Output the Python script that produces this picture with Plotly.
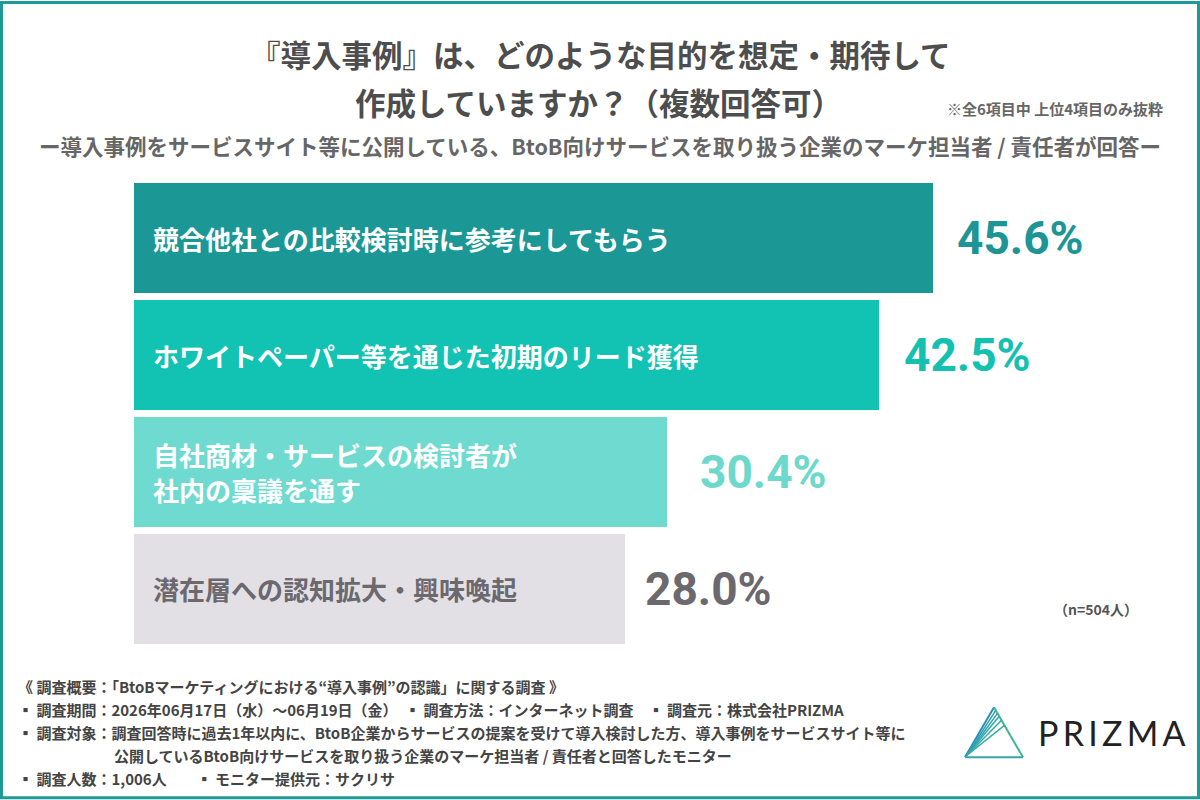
import plotly.graph_objects as go

categories = [
    "競合他社との比較検討時に参考にしてもらう",
    "ホワイトペーパー等を通じた初期のリード獲得",
    "自社商材・サービスの検討者が<br>社内の稟議を通す",
    "潜在層への認知拡大・興味喚起",
]
values = [45.6, 42.5, 30.4, 28.0]
value_labels = ["45.6%", "42.5%", "30.4%", "28.0%"]
bar_colors = ["#1b9796", "#12c2b3", "#6fdad0", "#e3e0e5"]
label_colors = ["#ffffff", "#ffffff", "#ffffff", "#6b686e"]
value_colors = ["#1d9594", "#14c0b0", "#6dd8cc", "#6b686e"]
value_shift = [22, 23, 31, 18]

W, H = 1200, 800
L, R = 134, 1134
T, B = 179.5, 647.5
XMAX = 1000 / 17.52

def px(x):
    return (x - L) / (R - L)

def py(y):
    return (B - y) / (B - T)

JP = "Noto Sans CJK JP"
ypos = list(range(len(categories)))

fig = go.Figure()
fig.add_trace(go.Bar(
    x=values, y=ypos, orientation="h",
    marker=dict(color=bar_colors, line=dict(width=0)),
    width=110 / 117, hoverinfo="skip",
))

annotations = []
for i, (cat, v, lab) in enumerate(zip(categories, values, value_labels)):
    lines = cat.split("<br>")
    n = len(lines)
    for k, line in enumerate(lines):
        annotations.append(dict(
            x=0, y=i, xref="x", yref="y", text="<b>" + line + "</b>",
            xanchor="left", yanchor="middle", xshift=17,
            yshift=((n - 1) / 2 - k) * 35, showarrow=False,
            font=dict(family=JP, size=26, color=label_colors[i]),
        ))
    annotations.append(dict(
        x=v, y=i, xref="x", yref="y", text="<b>" + lab + "</b>",
        xanchor="left", yanchor="middle", xshift=value_shift[i], showarrow=False,
        font=dict(family="Roboto, sans-serif", size=46, color=value_colors[i]),
    ))

def txt(x, y, s, size, color="#4d4d4d", xanchor="center", family=JP, bold=True):
    annotations.append(dict(
        x=px(x), y=py(y), xref="paper", yref="paper",
        text=("<b>" + s + "</b>") if bold else s,
        xanchor=xanchor, yanchor="middle", showarrow=False, align="left",
        font=dict(family=family, size=size, color=color),
    ))

txt(600, 53, "『導入事例』は、どのような目的を想定・期待して", 30.5)
txt(598, 101, "作成していますか？（複数回答可）", 30.5)
txt(1165, 108, "※全6項目中 上位4項目のみ抜粋", 15, color="#666666", xanchor="right")
txt(600, 145, "ー導入事例をサービスサイト等に公開している、BtoB向けサービスを取り扱う企業のマーケ担当者 / 責任者が回答ー",
    21.5, color="#666666")
txt(1140, 609, "（n=504人）", 14, color="#555555", xanchor="right")

foot = "#444444"
fs = 15
txt(16, 687, "《 調査概要：「BtoBマーケティングにおける“導入事例”の認識」に関する調査 》", fs, color=foot, xanchor="left")
txt(16, 710, "▪ 調査期間：2026年06月17日（水）～06月19日（金）　▪ 調査方法：インターネット調査　▪ 調査元：株式会社PRIZMA", fs, color=foot, xanchor="left")
txt(16, 733, "▪ 調査対象：調査回答時に過去1年以内に、BtoB企業からサービスの提案を受けて導入検討した方、導入事例をサービスサイト等に", fs, color=foot, xanchor="left")
txt(112, 756, "公開しているBtoB向けサービスを取り扱う企業のマーケ担当者 / 責任者と回答したモニター", fs, color=foot, xanchor="left")
txt(16, 779, "▪ 調査人数：1,006人　　▪ モニター提供元：サクリサ", fs, color=foot, xanchor="left")

txt(1036, 733, "P\u2009R\u2009I\u2009Z\u2009M\u2009A", 34, color="#222222", xanchor="left", family="Lato", bold=False)

shapes = []
shapes.append(dict(type="rect", xref="paper", yref="paper",
                   x0=px(1.5), x1=px(W - 1.5), y0=py(1.5), y1=py(H - 1.5),
                   line=dict(color="#1f9a96", width=3), layer="below"))
ax, ay = 994, 708
bl = (965, 758)
br = (1023, 758)
def seg(x0, y0, x1, y1, color, w=2):
    shapes.append(dict(type="line", xref="paper", yref="paper",
                       x0=px(x0), y0=py(y0), x1=px(x1), y1=py(y1),
                       line=dict(color=color, width=w)))
seg(bl[0], bl[1], ax, ay, "#2a8fb5")
seg(ax, ay, br[0], br[1], "#3fb58e")
seg(bl[0], bl[1], br[0], br[1], "#37a6a8")
for t, c in [(0.06, "#2f9fb3"), (0.12, "#2fa3b0"), (0.18, "#31a7ac"), (0.26, "#33aaa7"), (0.36, "#35ada0")]:
    ex = ax + (br[0] - ax) * t
    ey = ay + (br[1] - ay) * t
    seg(bl[0] + 2, bl[1] - 2, ex, ey, c, 1.5)

fig.update_layout(
    width=W, height=H,
    margin=dict(l=L, r=W - R, t=T, b=H - B, pad=0),
    paper_bgcolor="#ffffff", plot_bgcolor="#ffffff",
    showlegend=False,
    bargap=0,
    xaxis=dict(range=[0, XMAX], visible=False, fixedrange=True),
    yaxis=dict(range=[3.5, -0.5], visible=False, fixedrange=True),
    annotations=annotations,
    shapes=shapes,
)

fig.write_html("out.html")
